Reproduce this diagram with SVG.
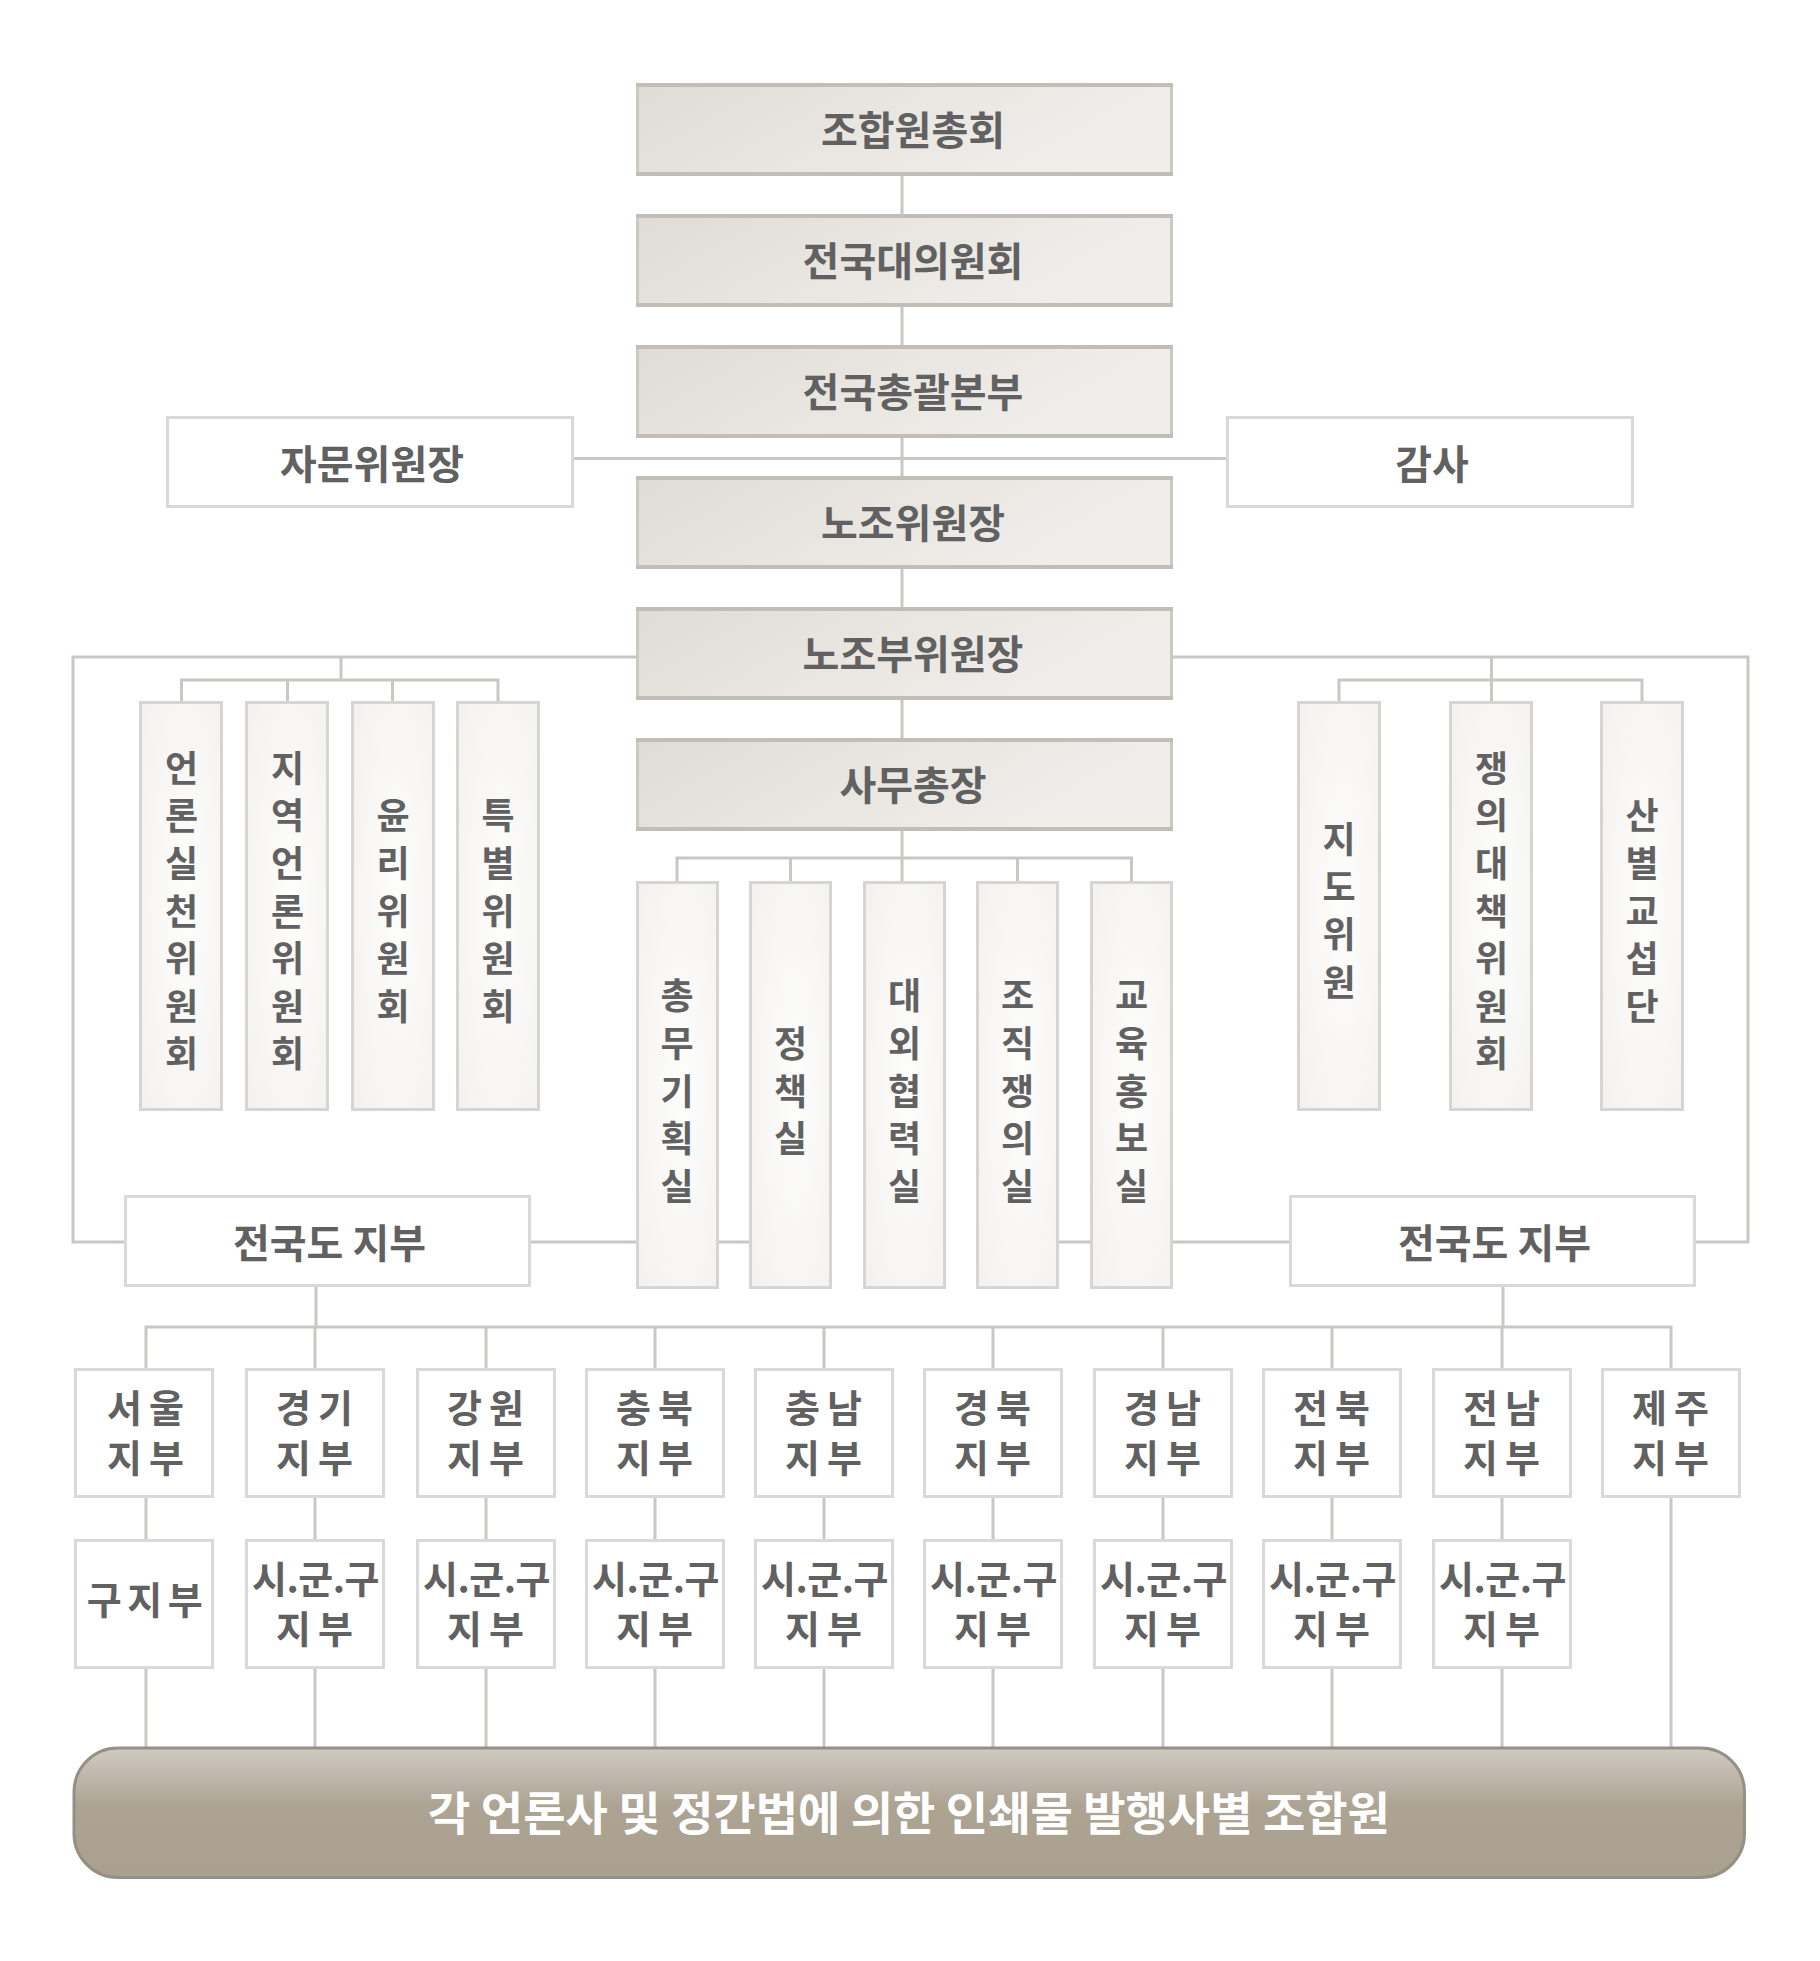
<svg xmlns="http://www.w3.org/2000/svg" width="1820" height="1961" viewBox="0 0 1820 1961">
<defs>
<linearGradient id="gGray" x1="0" y1="0" x2="1" y2="0.3">
<stop offset="0" stop-color="#dfdbd5"/>
<stop offset="0.5" stop-color="#e9e6e1"/>
<stop offset="1" stop-color="#f0eeeb"/>
</linearGradient>
<radialGradient id="gVert" cx="0.55" cy="0.5" r="0.7">
<stop offset="0" stop-color="#fdfdfc"/>
<stop offset="1" stop-color="#f3f2f0"/>
</radialGradient>
<linearGradient id="gPill" x1="0" y1="0" x2="0" y2="1">
<stop offset="0" stop-color="#d0cac1"/>
<stop offset="0.45" stop-color="#aca393"/>
<stop offset="1" stop-color="#a9a08f"/>
</linearGradient>
</defs>
<style>
.conn{stroke:#c9c7c3;stroke-width:3;fill:none}
.gbox{fill:url(#gGray);stroke:#ccc9c3;stroke-width:3}
.gedge{stroke:#c2beb7;stroke-width:4}
.wbox{fill:#ffffff;stroke:#d9d9d9;stroke-width:3}
.vbox{fill:url(#gVert);stroke:#d5d5d4;stroke-width:3}
.pill{fill:url(#gPill);stroke:#968f83;stroke-width:3}
text{font-family:"Noto Sans CJK KR","Noto Sans CJK SC",sans-serif;fill:#616161;font-size:40px;font-weight:700;text-anchor:middle}
.vc text{font-size:36px}
.b{font-size:38px;letter-spacing:7px}
.b3{font-size:38px;letter-spacing:5.5px}
.bs{font-size:38px;letter-spacing:-0.5px}
.tp{fill:#ffffff;font-size:46px}
</style>
<rect width="1820" height="1961" fill="#ffffff"/>

<g id="connectors">
<path class="conn" d="M902 176 V881"/>
<path class="conn" d="M574 458.5 H1226"/>
<path class="conn" d="M636 657 H73 V1242 H124"/>
<path class="conn" d="M1173 657 H1748 V1242 H1696"/>
<path class="conn" d="M341 657 V680"/>
<path class="conn" d="M181.5 702 V680 H498 V702"/>
<path class="conn" d="M287.5 680 V702 M392.5 680 V702"/>
<path class="conn" d="M1491.5 657 V702"/>
<path class="conn" d="M1339 702 V680 H1642 V702"/>
<path class="conn" d="M677 881 V858 H1131.5 V881"/>
<path class="conn" d="M790.5 858 V881 M1017.5 858 V881"/>
<path class="conn" d="M531 1242 H636 M718 1242 H749 M1059 1242 H1090 M1173 1242 H1289"/>
<path class="conn" d="M316 1287 V1327 M1503 1287 V1327"/>
<path class="conn" d="M146 1368 V1327 H1671 V1747"/>
<path class="conn" d="M315 1327 V1368 M486 1327 V1368 M655 1327 V1368 M824 1327 V1368 M993 1327 V1368 M1163 1327 V1368 M1332 1327 V1368 M1502 1327 V1368"/>
<path class="conn" d="M146 1498 V1539 M315 1498 V1539 M486 1498 V1539 M655 1498 V1539 M824 1498 V1539 M993 1498 V1539 M1163 1498 V1539 M1332 1498 V1539 M1502 1498 V1539"/>
<path class="conn" d="M146 1669 V1747 M315 1669 V1747 M486 1669 V1747 M655 1669 V1747 M824 1669 V1747 M993 1669 V1747 M1163 1669 V1747 M1332 1669 V1747 M1502 1669 V1747"/>
</g>

<g id="n-chonghoe">
<rect class="gbox" x="637.5" y="84.5" width="534" height="90"/>
<path class="gedge" d="M636 85 H1173 M636 174 H1173"/>
<text x="913" y="145">조합원총회</text>
</g>
<g id="n-daeuiwonhoe">
<rect class="gbox" x="637.5" y="215.5" width="534" height="90"/>
<path class="gedge" d="M636 216 H1173 M636 305 H1173"/>
<text x="913" y="276">전국대의원회</text>
</g>
<g id="n-chonggwal">
<rect class="gbox" x="637.5" y="346.5" width="534" height="90"/>
<path class="gedge" d="M636 347 H1173 M636 436 H1173"/>
<text x="913" y="407">전국총괄본부</text>
</g>
<g id="n-wiwonjang">
<rect class="gbox" x="637.5" y="477.5" width="534" height="90"/>
<path class="gedge" d="M636 478 H1173 M636 567 H1173"/>
<text x="913" y="538">노조위원장</text>
</g>
<g id="n-buwiwonjang">
<rect class="gbox" x="637.5" y="608.5" width="534" height="90"/>
<path class="gedge" d="M636 609 H1173 M636 698 H1173"/>
<text x="913" y="669">노조부위원장</text>
</g>
<g id="n-samuchongjang">
<rect class="gbox" x="637.5" y="739.5" width="534" height="90"/>
<path class="gedge" d="M636 740 H1173 M636 829 H1173"/>
<text x="913" y="800">사무총장</text>
</g>

<g id="n-jamun">
<rect class="wbox" x="167.5" y="417.5" width="405" height="89"/>
<text x="372" y="479">자문위원장</text>
</g>
<g id="n-gamsa">
<rect class="wbox" x="1227.5" y="417.5" width="405" height="89"/>
<text x="1432" y="479">감사</text>
</g>

<g id="n-c1" class="vc">
<rect class="vbox" x="140.5" y="702.5" width="81" height="407"/>
<text x="181.5" y="781.7">언</text><text x="181.5" y="829.3">론</text><text x="181.5" y="876.9">실</text><text x="181.5" y="924.5">천</text><text x="181.5" y="972.1">위</text><text x="181.5" y="1019.7">원</text><text x="181.5" y="1067.3">회</text>
</g>
<g id="n-c2" class="vc">
<rect class="vbox" x="246.5" y="702.5" width="81" height="407"/>
<text x="287.5" y="781.7">지</text><text x="287.5" y="829.3">역</text><text x="287.5" y="876.9">언</text><text x="287.5" y="924.5">론</text><text x="287.5" y="972.1">위</text><text x="287.5" y="1019.7">원</text><text x="287.5" y="1067.3">회</text>
</g>
<g id="n-c3" class="vc">
<rect class="vbox" x="352.5" y="702.5" width="81" height="407"/>
<text x="393" y="829.3">윤</text><text x="393" y="876.9">리</text><text x="393" y="924.5">위</text><text x="393" y="972.1">원</text><text x="393" y="1019.7">회</text>
</g>
<g id="n-c4" class="vc">
<rect class="vbox" x="457.5" y="702.5" width="81" height="407"/>
<text x="498" y="829.3">특</text><text x="498" y="876.9">별</text><text x="498" y="924.5">위</text><text x="498" y="972.1">원</text><text x="498" y="1019.7">회</text>
</g>

<g id="n-r1" class="vc">
<rect class="vbox" x="1298.5" y="702.5" width="81" height="407"/>
<text x="1339" y="853.1">지</text><text x="1339" y="900.7">도</text><text x="1339" y="948.3">위</text><text x="1339" y="995.9">원</text>
</g>
<g id="n-r2" class="vc">
<rect class="vbox" x="1450.5" y="702.5" width="81" height="407"/>
<text x="1491.5" y="781.7">쟁</text><text x="1491.5" y="829.3">의</text><text x="1491.5" y="876.9">대</text><text x="1491.5" y="924.5">책</text><text x="1491.5" y="972.1">위</text><text x="1491.5" y="1019.7">원</text><text x="1491.5" y="1067.3">회</text>
</g>
<g id="n-r3" class="vc">
<rect class="vbox" x="1601.5" y="702.5" width="81" height="407"/>
<text x="1642" y="829.3">산</text><text x="1642" y="876.9">별</text><text x="1642" y="924.5">교</text><text x="1642" y="972.1">섭</text><text x="1642" y="1019.7">단</text>
</g>

<g id="n-o1" class="vc">
<rect class="vbox" x="637.5" y="882.5" width="80" height="405"/>
<text x="677" y="1009.3">총</text><text x="677" y="1056.9">무</text><text x="677" y="1104.5">기</text><text x="677" y="1152.1">획</text><text x="677" y="1199.7">실</text>
</g>
<g id="n-o2" class="vc">
<rect class="vbox" x="750.5" y="882.5" width="80" height="405"/>
<text x="790.5" y="1056.9">정</text><text x="790.5" y="1104.5">책</text><text x="790.5" y="1152.1">실</text>
</g>
<g id="n-o3" class="vc">
<rect class="vbox" x="864.5" y="882.5" width="80" height="405"/>
<text x="904.5" y="1009.3">대</text><text x="904.5" y="1056.9">외</text><text x="904.5" y="1104.5">협</text><text x="904.5" y="1152.1">력</text><text x="904.5" y="1199.7">실</text>
</g>
<g id="n-o4" class="vc">
<rect class="vbox" x="977.5" y="882.5" width="80" height="405"/>
<text x="1017.5" y="1009.3">조</text><text x="1017.5" y="1056.9">직</text><text x="1017.5" y="1104.5">쟁</text><text x="1017.5" y="1152.1">의</text><text x="1017.5" y="1199.7">실</text>
</g>
<g id="n-o5" class="vc">
<rect class="vbox" x="1091.5" y="882.5" width="80" height="405"/>
<text x="1131.5" y="1009.3">교</text><text x="1131.5" y="1056.9">육</text><text x="1131.5" y="1104.5">홍</text><text x="1131.5" y="1152.1">보</text><text x="1131.5" y="1199.7">실</text>
</g>

<g id="n-jiboo-left">
<rect class="wbox" x="125.5" y="1196.5" width="404" height="89"/>
<text x="329.5" y="1258">전국도 지부</text>
</g>
<g id="n-jiboo-right">
<rect class="wbox" x="1290.5" y="1196.5" width="404" height="89"/>
<text x="1494.5" y="1258">전국도 지부</text>
</g>

<g id="n-seoul">
<rect class="wbox" x="75.5" y="1369.5" width="137" height="127"/>
<text class="b" x="149" y="1422.3">서울</text><text class="b" x="149" y="1472.3">지부</text>
</g>
<g id="n-gyeonggi">
<rect class="wbox" x="246.5" y="1369.5" width="137" height="127"/>
<text class="b" x="318" y="1422.3">경기</text><text class="b" x="318" y="1472.3">지부</text>
</g>
<g id="n-gangwon">
<rect class="wbox" x="417.5" y="1369.5" width="137" height="127"/>
<text class="b" x="489" y="1422.3">강원</text><text class="b" x="489" y="1472.3">지부</text>
</g>
<g id="n-chungbuk">
<rect class="wbox" x="586.5" y="1369.5" width="137" height="127"/>
<text class="b" x="658" y="1422.3">충북</text><text class="b" x="658" y="1472.3">지부</text>
</g>
<g id="n-chungnam">
<rect class="wbox" x="755.5" y="1369.5" width="137" height="127"/>
<text class="b" x="827" y="1422.3">충남</text><text class="b" x="827" y="1472.3">지부</text>
</g>
<g id="n-gyeongbuk">
<rect class="wbox" x="924.5" y="1369.5" width="137" height="127"/>
<text class="b" x="996" y="1422.3">경북</text><text class="b" x="996" y="1472.3">지부</text>
</g>
<g id="n-gyeongnam">
<rect class="wbox" x="1094.5" y="1369.5" width="137" height="127"/>
<text class="b" x="1166" y="1422.3">경남</text><text class="b" x="1166" y="1472.3">지부</text>
</g>
<g id="n-jeonbuk">
<rect class="wbox" x="1263.5" y="1369.5" width="137" height="127"/>
<text class="b" x="1335" y="1422.3">전북</text><text class="b" x="1335" y="1472.3">지부</text>
</g>
<g id="n-jeonnam">
<rect class="wbox" x="1433.5" y="1369.5" width="137" height="127"/>
<text class="b" x="1505" y="1422.3">전남</text><text class="b" x="1505" y="1472.3">지부</text>
</g>
<g id="n-jeju">
<rect class="wbox" x="1602.5" y="1369.5" width="137" height="127"/>
<text class="b" x="1674" y="1422.3">제주</text><text class="b" x="1674" y="1472.3">지부</text>
</g>

<g id="n-gujiboo">
<rect class="wbox" x="75.5" y="1540.5" width="137" height="127"/>
<text class="b3" x="147.5" y="1613.8">구지부</text>
</g>
<g id="n-sgg-gyeonggi">
<rect class="wbox" x="246.5" y="1540.5" width="137" height="127"/>
<text class="bs" x="315.5" y="1593.3">시.군.구</text><text class="b" x="318" y="1643.3">지부</text>
</g>
<g id="n-sgg-gangwon">
<rect class="wbox" x="417.5" y="1540.5" width="137" height="127"/>
<text class="bs" x="486.5" y="1593.3">시.군.구</text><text class="b" x="489" y="1643.3">지부</text>
</g>
<g id="n-sgg-chungbuk">
<rect class="wbox" x="586.5" y="1540.5" width="137" height="127"/>
<text class="bs" x="655.5" y="1593.3">시.군.구</text><text class="b" x="658" y="1643.3">지부</text>
</g>
<g id="n-sgg-chungnam">
<rect class="wbox" x="755.5" y="1540.5" width="137" height="127"/>
<text class="bs" x="824.5" y="1593.3">시.군.구</text><text class="b" x="827" y="1643.3">지부</text>
</g>
<g id="n-sgg-gyeongbuk">
<rect class="wbox" x="924.5" y="1540.5" width="137" height="127"/>
<text class="bs" x="993.5" y="1593.3">시.군.구</text><text class="b" x="996" y="1643.3">지부</text>
</g>
<g id="n-sgg-gyeongnam">
<rect class="wbox" x="1094.5" y="1540.5" width="137" height="127"/>
<text class="bs" x="1163.5" y="1593.3">시.군.구</text><text class="b" x="1166" y="1643.3">지부</text>
</g>
<g id="n-sgg-jeonbuk">
<rect class="wbox" x="1263.5" y="1540.5" width="137" height="127"/>
<text class="bs" x="1332.5" y="1593.3">시.군.구</text><text class="b" x="1335" y="1643.3">지부</text>
</g>
<g id="n-sgg-jeonnam">
<rect class="wbox" x="1433.5" y="1540.5" width="137" height="127"/>
<text class="bs" x="1502.5" y="1593.3">시.군.구</text><text class="b" x="1505" y="1643.3">지부</text>
</g>

<g id="n-members">
<rect class="pill" x="74" y="1748" width="1670.5" height="129.5" rx="44" ry="44"/>
<text class="tp" x="909" y="1830">각 언론사 및 정간법에 의한 인쇄물 발행사별 조합원</text>
</g>
</svg>
